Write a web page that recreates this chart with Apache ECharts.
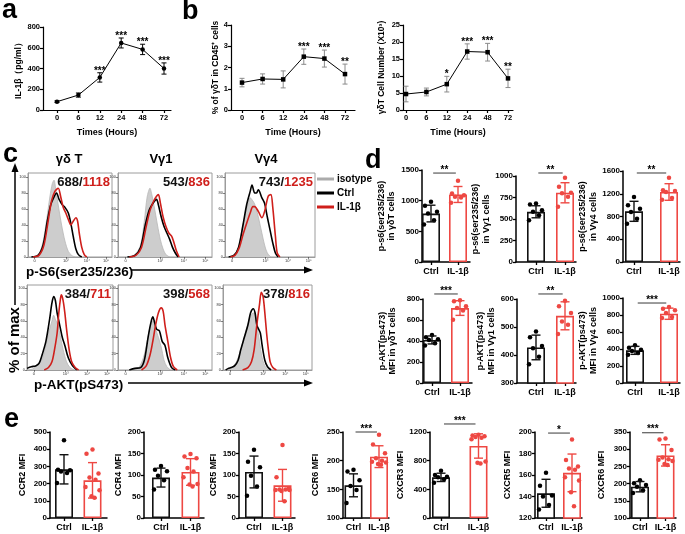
<!DOCTYPE html>
<html>
<head>
<meta charset="utf-8">
<script src="https://cdn.jsdelivr.net/npm/echarts@6/dist/echarts.min.js"></script>
<style>
  html, body { margin: 0; padding: 0; background: #fff; }
  #chart { width: 685px; height: 534px; }
</style>
</head>
<body>
<div id="chart"></div>
<script>
// ---------- data ----------
const timeLabels = ['0', '6', '12', '24', '48', '72'];
const groups = ['Ctrl', 'IL-1β'];

// a: IL-1beta over time
const il1bMean = [80, 144, 314, 646, 584, 400];
const il1bSd = [8, 20, 45, 48, 50, 54];
const il1bSig = ['', '', '***', '***', '***', '***'];
// b: % gdT in CD45+ cells
const gdPctMean = [1.29, 1.46, 1.44, 2.51, 2.42, 1.69];
const gdPctSd = [0.2, 0.24, 0.4, 0.36, 0.4, 0.47];
const gdPctSig = ['', '', '', '***', '***', '**'];
// b: gdT cell number (x10^3)
const gdNumMean = [4.7, 5.3, 7.6, 17.2, 17.0, 9.3];
const gdNumSd = [2.3, 1.15, 2.3, 2.25, 2.6, 2.7];
const gdNumSig = ['', '', '*', '***', '***', '**'];

// c: flow histograms, [position across plot 0-100, % of max]
const hS6GdIso = [[4,0],[12,3],[17,15],[22,45],[26,75],[29,92],[31,96],[33,85],[36,65],[40,40],[44,20],[48,7],[52,2],[56,0]];
const hS6GdCtrl = [[4,0],[12,2],[18,15],[23,45],[27,65],[31,75],[34,80],[37,72],[41,65],[44,62],[48,55],[51,42],[54,25],[57,10],[60,3],[64,0]];
const hS6GdIl = [[6,0],[13,2],[19,15],[24,45],[28,70],[32,82],[36,86],[39,75],[42,62],[45,55],[48,47],[51,40],[54,45],[57,49],[59,45],[61,30],[64,12],[67,3],[70,0]];
const hS6V1Iso = [[10,0],[18,3],[24,15],[28,45],[31,75],[34,86],[36,78],[39,60],[42,40],[45,22],[48,10],[51,3],[55,0]];
const hS6V1Ctrl = [[10,0],[18,2],[24,12],[29,40],[33,58],[36,65],[39,70],[41,72],[43,65],[46,50],[49,38],[52,30],[55,22],[58,12],[61,5],[64,0]];
const hS6V1Il = [[12,0],[19,2],[25,12],[30,38],[34,58],[38,70],[41,76],[43,78],[45,68],[48,50],[51,38],[54,30],[57,26],[59,20],[62,8],[65,0]];
const hS6V4Iso = [[4,0],[10,3],[15,12],[19,35],[23,55],[26,68],[28,74],[31,70],[33,66],[36,55],[40,35],[44,15],[47,5],[51,0]];
const hS6V4Ctrl = [[4,0],[10,2],[15,12],[20,40],[24,65],[28,82],[30,90],[33,80],[35,80],[37,84],[41,74],[44,67],[47,50],[50,34],[53,18],[56,5],[59,0]];
const hS6V4Il = [[6,0],[11,2],[16,12],[20,28],[24,42],[28,55],[31,63],[33,63],[37,57],[41,49],[44,57],[48,76],[51,78],[53,63],[56,26],[58,5],[61,0]];
const hAktGdIso = [[2,0],[8,2],[13,8],[17,12],[21,25],[25,45],[29,60],[31,67],[33,62],[36,55],[39,40],[42,25],[46,10],[50,3],[55,0]];
const hAktGdCtrl = [[0,2],[5,4],[10,5],[14,8],[18,20],[22,35],[26,60],[29,82],[31,90],[33,85],[35,70],[37,60],[39,50],[41,40],[44,30],[48,15],[53,5],[58,0]];
const hAktGdIl = [[20,0],[25,3],[29,10],[32,25],[35,45],[37,70],[39,88],[40,92],[42,85],[44,70],[46,50],[49,25],[52,10],[56,3],[60,0]];
const hAktV1Iso = [[15,0],[22,3],[27,15],[31,35],[34,52],[37,60],[40,50],[43,40],[46,28],[49,12],[52,4],[56,0]];
const hAktV1Ctrl = [[12,0],[18,2],[24,3],[28,12],[32,40],[35,58],[37,65],[39,58],[41,50],[44,48],[47,35],[50,30],[53,15],[57,3],[61,0]];
const hAktV1Il = [[25,0],[30,5],[34,18],[37,35],[40,55],[43,70],[46,76],[48,72],[50,55],[53,35],[56,15],[59,4],[63,0]];
const hAktV4Iso = [[5,0],[10,3],[15,10],[20,25],[25,45],[29,60],[32,68],[35,70],[38,55],[41,35],[44,15],[47,5],[51,0]];
const hAktV4Ctrl = [[3,0],[6,2],[9,3],[13,5],[17,12],[20,25],[24,40],[28,55],[31,70],[34,75],[36,70],[38,55],[40,50],[42,45],[44,30],[47,12],[50,4],[54,0]];
const hAktV4Il = [[22,0],[28,3],[32,10],[35,25],[38,55],[41,80],[43,95],[45,90],[47,70],[49,45],[51,25],[53,10],[56,3],[60,0]];
const histXTicks = [8, 45, 70, 93];
const histXLabels = ['0', '10³', '10⁴', '10⁵'];
const histYTicks = [0, 20, 40, 60, 80, 100];

// d: phospho MFI, dots per mouse, bar = mean, sd
const s6GdCtrl = [981, 916, 818, 790, 681, 610];
const s6GdIl = [1324, 1117, 1090, 1063, 1052, 965];
const s6GdMean = [790, 1101], s6GdSd = [136, 130];
const s6V1Ctrl = [681, 669, 603, 584, 545, 486];
const s6V1Il = [981, 875, 805, 798, 759, 642];
const s6V1Mean = [584, 805], s6V1Sd = [70, 117];
const s6V4Ctrl = [1143, 996, 938, 879, 762, 674];
const s6V4Il = [1483, 1260, 1248, 1231, 1125, 1096];
const s6V4Mean = [891, 1231], s6V4Sd = [176, 146];
const aktGdCtrl = [458, 435, 416, 410, 378, 358];
const aktGdIl = [787, 778, 730, 714, 691, 602];
const aktGdMean = [410, 714], aktGdSd = [38, 70];
const aktV1Ctrl = [484, 463, 432, 424, 394, 367];
const aktV1Il = [594, 574, 550, 520, 508, 475];
const aktV1Mean = [427, 540], aktV1Sd = [44, 50];
const aktV4Ctrl = [443, 416, 392, 376, 353, 333];
const aktV4Il = [894, 874, 855, 823, 776, 764];
const aktV4Mean = [384, 815], aktV4Sd = [47, 66];

// e: chemokine receptor MFI
const ccr2Ctrl = [452, 281, 277, 271, 262, 204];
const ccr2Il = [398, 374, 258, 235, 223, 180, 161, 126, 118];
const ccr2Mean = [283, 219], ccr2Sd = [85, 103];
const ccr4Ctrl = [121, 112, 109, 98, 88, 66];
const ccr4Il = [149, 143, 139, 116, 108, 95, 79, 78, 73];
const ccr4Mean = [94, 107], ccr4Sd = [22, 31];
const ccr5Ctrl = [159, 131, 118, 98, 73, 52];
const ccr5Il = [170, 95, 68, 66, 66, 65, 65, 63, 39];
const ccr5Mean = [107, 76], ccr5Sd = [37, 37];
const ccr6Ctrl = [184, 181, 166, 156, 149, 126];
const ccr6Il = [245, 228, 213, 204, 200, 198, 197, 194, 193];
const ccr6Mean = [157, 207], ccr6Sd = [20, 19];
const cxcr3Ctrl = [661, 600, 577, 567, 539, 492];
const cxcr3Il = [1160, 1150, 1140, 1130, 1120, 1100, 790, 770, 760];
const cxcr3Mean = [567, 1005], cxcr3Sd = [58, 170];
const cxcr5Ctrl = [162, 150, 141, 140, 132, 128];
const cxcr5Il = [193, 174, 168, 166, 165, 158, 155, 144, 131];
const cxcr5Mean = [143, 162], cxcr5Sd = [13, 17.5];
const cxcr6Ctrl = [210, 201, 196, 191, 181, 173];
const cxcr6Il = [331, 328, 298, 276, 271, 269, 266, 257, 254];
const cxcr6Mean = [191, 282], cxcr6Sd = [15, 31];

// ---------- styling / layout ----------
const FONT = '"Liberation Sans", Arial, Helvetica, sans-serif';
const RED = '#ee4843';
const HRED = '#cf1f1b';
const groupColors = ['#111', RED];
const jitter = [0, -6, 6, -3, 3, -7, 7, -1, 2]; // px spread of dots inside a bar

function txt(size, extra) {
  return Object.assign({ fontFamily: FONT, fontWeight: 'bold', fontSize: size, color: '#000' }, extra || {});
}
const plain = v => String(v);

const grids = [], xAxes = [], yAxes = [], series = [];
function addGrid(g) { grids.push(g); return grids.length - 1; }

function errBar(colors, cap, lw) {
  return function (params, api) {
    const x = api.value(0), m = api.value(1), s = api.value(2);
    const t = api.coord([x, m + s]), b = api.coord([x, m - s]);
    const st = { stroke: colors[params.dataIndex] || colors[0], lineWidth: lw };
    return { type: 'group', children: [
      { type: 'line', shape: { x1: t[0], y1: t[1], x2: b[0], y2: b[1] }, style: st },
      { type: 'line', shape: { x1: t[0] - cap, y1: t[1], x2: t[0] + cap, y2: t[1] }, style: st },
      { type: 'line', shape: { x1: b[0] - cap, y1: b[1], x2: b[0] + cap, y2: b[1] }, style: st }
    ] };
  };
}

// ---------- a / b : time courses ----------
const linePanels = [
  { mean: il1bMean, sd: il1bSd, sig: il1bSig, yMax: 800, yStep: 200, yName: 'IL-1β（pg/ml）', xName: 'Times (Hours)',
    errColor: '#000', symbol: 'circle', axis: 43, first: 57, last: 164, end: 171, top: 27, bottom: 110, yNameGap: 16 },
  { mean: gdPctMean, sd: gdPctSd, sig: gdPctSig, yMax: 4, yStep: 1, yName: '% of γδT in CD45⁺ cells', xName: 'Time (Hours)',
    errColor: '#8a8a8a', symbol: 'rect', axis: 231, first: 242, last: 345, end: 355, top: 25, bottom: 110, yNameGap: 8 },
  { mean: gdNumMean, sd: gdNumSd, sig: gdNumSig, yMax: 25, yStep: 5, yName: 'γδT Cell Number (X10³)', xName: 'Time (Hours)',
    errColor: '#8a8a8a', symbol: 'rect', axis: 403, first: 406, last: 508, end: 513, top: 25, bottom: 110, yNameGap: 17 }
];

linePanels.forEach(p => {
  const unit = (p.last - p.first) / 5;
  const idx = [0, 1, 2, 3, 4, 5];
  const gi = addGrid({ left: p.axis, top: p.top, width: p.end - p.axis, height: p.bottom - p.top });
  xAxes.push({
    gridIndex: gi, type: 'value', min: -(p.first - p.axis) / unit, max: 5 + (p.end - p.last) / unit,
    axisLine: { onZero: false, lineStyle: { color: '#000', width: 1.2 } },
    axisTick: { customValues: idx, length: 3, lineStyle: { color: '#000', width: 1.2 } },
    axisLabel: Object.assign({ customValues: idx, margin: 4, formatter: v => timeLabels[Math.round(v)] }, txt(7.5)),
    splitLine: { show: false },
    name: p.xName, nameLocation: 'middle', nameGap: 18, nameTextStyle: txt(9)
  });
  yAxes.push({
    gridIndex: gi, type: 'value', min: 0, max: p.yMax, interval: p.yStep,
    axisLine: { show: true, onZero: false, lineStyle: { color: '#000', width: 1.2 } },
    axisTick: { show: true, length: 3, lineStyle: { color: '#000', width: 1.2 } },
    axisLabel: Object.assign({ margin: 3, formatter: plain }, txt(7.5)),
    splitLine: { show: false },
    name: p.yName, nameLocation: 'middle', nameRotate: 90, nameGap: p.yNameGap, nameTextStyle: txt(8.5)
  });
  series.push({
    type: 'custom', xAxisIndex: gi, yAxisIndex: gi, z: 2,
    data: p.mean.map((m, i) => [i, m, p.sd[i]]),
    renderItem: errBar([p.errColor], 2.5, 1)
  });
  series.push({
    type: 'line', xAxisIndex: gi, yAxisIndex: gi, z: 3,
    data: p.mean.map((m, i) => [i, m]),
    symbol: p.symbol, symbolSize: 4.5, itemStyle: { color: '#000' },
    lineStyle: { color: '#000', width: 1 }
  });
  series.push({
    type: 'custom', xAxisIndex: gi, yAxisIndex: gi, z: 4,
    data: p.mean.map((m, i) => [i, m + p.sd[i]]),
    renderItem: (params, api) => {
      const s = p.sig[params.dataIndex];
      if (!s) return null;
      const pt = api.coord([api.value(0), api.value(1)]);
      return { type: 'text', x: pt[0], y: pt[1] + 3,
        style: { text: s, fill: '#000', font: 'bold 10px ' + FONT, align: 'center', verticalAlign: 'bottom' } };
    }
  });
});

// ---------- c : flow histograms ----------
const histPanels = [
  { iso: hS6GdIso, ctrl: hS6GdCtrl, il: hS6GdIl, left: 28, right: 112, top: 173, bottom: 257, yMax: 105, nums: ['688/', '1118'] },
  { iso: hS6V1Iso, ctrl: hS6V1Ctrl, il: hS6V1Il, left: 118, right: 212, top: 173, bottom: 257, yMax: 105, nums: ['543/', '836'] },
  { iso: hS6V4Iso, ctrl: hS6V4Ctrl, il: hS6V4Il, left: 225, right: 315, top: 173, bottom: 257, yMax: 105, nums: ['743/', '1235'] },
  { iso: hAktGdIso, ctrl: hAktGdCtrl, il: hAktGdIl, left: 27, right: 113, top: 285, bottom: 370, yMax: 104, nums: ['384/', '711'] },
  { iso: hAktV1Iso, ctrl: hAktV1Ctrl, il: hAktV1Il, left: 118, right: 212, top: 285, bottom: 370, yMax: 104, nums: ['398/', '568'] },
  { iso: hAktV4Iso, ctrl: hAktV4Ctrl, il: hAktV4Il, left: 223, right: 312, top: 285, bottom: 370, yMax: 104, nums: ['378/', '816'] }
];
const histTitles = [['γδ T', 69], ['Vγ1', 161], ['Vγ4', 266]];

histPanels.forEach(h => {
  const gi = addGrid({ left: h.left, top: h.top, width: h.right - h.left, height: h.bottom - h.top,
    show: true, borderColor: '#9c9c9c', borderWidth: 1 });
  xAxes.push({
    gridIndex: gi, type: 'value', min: 0, max: 100,
    axisLine: { onZero: false, lineStyle: { color: '#9c9c9c', width: 1 } },
    axisTick: { customValues: histXTicks, length: 2, lineStyle: { color: '#333', width: 0.6 } },
    axisLabel: { customValues: histXTicks, formatter: v => histXLabels[histXTicks.indexOf(v)], fontSize: 4, color: '#333', margin: 2 },
    splitLine: { show: false }
  });
  yAxes.push({
    gridIndex: gi, type: 'value', min: 0, max: h.yMax,
    axisLine: { show: true, onZero: false, lineStyle: { color: '#9c9c9c', width: 1 } },
    axisTick: { show: true, customValues: histYTicks, length: 2, lineStyle: { color: '#333', width: 0.6 } },
    axisLabel: { customValues: histYTicks, fontSize: 4, color: '#333', margin: 2 },
    splitLine: { show: false }
  });
  const base = { type: 'line', xAxisIndex: gi, yAxisIndex: gi, smooth: 0.3, symbol: 'none', silent: true };
  series.push(Object.assign({}, base, { name: 'isotype', data: h.iso, z: 2,
    itemStyle: { color: '#ababab' }, lineStyle: { color: '#b8b8b8', width: 0.8 }, areaStyle: { color: '#cdcdcd', opacity: 1 } }));
  series.push(Object.assign({}, base, { name: 'Ctrl', data: h.ctrl, z: 3,
    itemStyle: { color: '#000' }, lineStyle: { color: '#000', width: 1.6 } }));
  series.push(Object.assign({}, base, { name: 'IL-1β', data: h.il, z: 4,
    itemStyle: { color: HRED }, lineStyle: { color: HRED, width: 1.6 } }));
});

// ---------- d / e : bar + dot plots ----------
const barPanels = [
  { ctrl: s6GdCtrl, il: s6GdIl, mean: s6GdMean, sd: s6GdSd, sig: '**', yMin: 0, yMax: 1500, yStep: 500,
    name: 'p-s6(ser235/236)\nin γδT cells', axis: 422, c0: 431, c1: 458, end: 470, top: 170, bottom: 262, nameGap: 25, br: 1450 },
  { ctrl: s6V1Ctrl, il: s6V1Il, mean: s6V1Mean, sd: s6V1Sd, sig: '**', yMin: 0, yMax: 1000, yStep: 250,
    name: 'p-s6(ser235/236)\nin Vγ1 cells', axis: 516, c0: 536, c1: 565, end: 576, top: 176, bottom: 262, nameGap: 20, br: 1035 },
  { ctrl: s6V4Ctrl, il: s6V4Il, mean: s6V4Mean, sd: s6V4Sd, sig: '**', yMin: 0, yMax: 1600, yStep: 400,
    name: 'p-s6(ser235/236)\nin Vγ4 cells', axis: 623, c0: 634, c1: 669, end: 680, top: 171, bottom: 262, nameGap: 20, br: 1565 },
  { ctrl: aktGdCtrl, il: aktGdIl, mean: aktGdMean, sd: aktGdSd, sig: '***', yMin: 0, yMax: 800, yStep: 200,
    name: 'p-AKT(ps473)\nMFI in γδT cells', axis: 423, c0: 432, c1: 460, end: 472, top: 299, bottom: 383, nameGap: 25, br: 848 },
  { ctrl: aktV1Ctrl, il: aktV1Il, mean: aktV1Mean, sd: aktV1Sd, sig: '**', yMin: 300, yMax: 600, yStep: 100,
    name: 'p-AKT(ps473)\nMFI in Vγ1 cells', axis: 517, c0: 536, c1: 565, end: 576, top: 299, bottom: 383, nameGap: 20, br: 618 },
  { ctrl: aktV4Ctrl, il: aktV4Il, mean: aktV4Mean, sd: aktV4Sd, sig: '***', yMin: 0, yMax: 1000, yStep: 200,
    name: 'p-AKT(ps473)\nMFI in Vγ4 cells', axis: 623, c0: 635, c1: 669, end: 680, top: 298, bottom: 383, nameGap: 20, br: 941 },
  { ctrl: ccr2Ctrl, il: ccr2Il, mean: ccr2Mean, sd: ccr2Sd, sig: '', yMin: 0, yMax: 500, yStep: 100,
    name: 'CCR2 MFI', axis: 50, c0: 64, c1: 92.5, end: 107, top: 432, bottom: 518, nameGap: 22 },
  { ctrl: ccr4Ctrl, il: ccr4Il, mean: ccr4Mean, sd: ccr4Sd, sig: '', yMin: 0, yMax: 200, yStep: 50,
    name: 'CCR4 MFI', axis: 144, c0: 161, c1: 190.5, end: 204, top: 432, bottom: 518, nameGap: 19 },
  { ctrl: ccr5Ctrl, il: ccr5Il, mean: ccr5Mean, sd: ccr5Sd, sig: '', yMin: 0, yMax: 200, yStep: 50,
    name: 'CCR5 MFI', axis: 239, c0: 254, c1: 282.5, end: 295, top: 432, bottom: 518, nameGap: 19 },
  { ctrl: ccr6Ctrl, il: ccr6Il, mean: ccr6Mean, sd: ccr6Sd, sig: '***', yMin: 100, yMax: 250, yStep: 50,
    name: 'CCR6 MFI', axis: 343, c0: 353.5, c1: 379, end: 389, top: 432, bottom: 518, nameGap: 22, br: 250 },
  { ctrl: cxcr3Ctrl, il: cxcr3Il, mean: cxcr3Mean, sd: cxcr3Sd, sig: '***', yMin: 0, yMax: 1200, yStep: 400,
    name: 'CXCR3 MFI', axis: 430, c0: 441, c1: 478.5, end: 488, top: 432, bottom: 518, nameGap: 22, br: 1312 },
  { ctrl: cxcr5Ctrl, il: cxcr5Il, mean: cxcr5Mean, sd: cxcr5Sd, sig: '*', yMin: 120, yMax: 200, yStep: 20,
    name: 'CXCR5 MFI', axis: 535, c0: 546, c1: 572, end: 582, top: 432, bottom: 518, nameGap: 22, br: 199 },
  { ctrl: cxcr6Ctrl, il: cxcr6Il, mean: cxcr6Mean, sd: cxcr6Sd, sig: '***', yMin: 100, yMax: 350, yStep: 50,
    name: 'CXCR6 MFI', axis: 630, c0: 640, c1: 665.5, end: 676, top: 432, bottom: 518, nameGap: 23, br: 348 }
];

barPanels.forEach(p => {
  const unit = p.c1 - p.c0;
  const gi = addGrid({ left: p.axis, top: p.top, width: p.end - p.axis, height: p.bottom - p.top });
  xAxes.push({
    gridIndex: gi, type: 'value', min: -(p.c0 - p.axis) / unit, max: 1 + (p.end - p.c1) / unit,
    axisLine: { onZero: false, lineStyle: { color: '#000', width: 1.5 } },
    axisTick: { customValues: [0, 1], length: 3, lineStyle: { color: '#000', width: 1.3 } },
    axisLabel: Object.assign({ customValues: [0, 1], margin: 5, formatter: v => groups[Math.round(v)] }, txt(9)),
    splitLine: { show: false }
  });
  yAxes.push({
    gridIndex: gi, type: 'value', min: p.yMin, max: p.yMax, interval: p.yStep,
    axisLine: { show: true, onZero: false, lineStyle: { color: '#000', width: 1.5 } },
    axisTick: { show: true, length: 3, lineStyle: { color: '#000', width: 1.3 } },
    axisLabel: Object.assign({ margin: 3, formatter: plain }, txt(8)),
    splitLine: { show: false },
    name: p.name, nameLocation: 'middle', nameRotate: 90, nameGap: p.nameGap,
    nameTextStyle: txt(9, { lineHeight: 10.5 })
  });
  series.push({
    type: 'bar', xAxisIndex: gi, yAxisIndex: gi, barWidth: 18, silent: true, z: 2,
    data: p.mean.map((m, i) => ({ value: [i, m], itemStyle: { borderColor: groupColors[i] } })),
    itemStyle: { color: '#fff', borderWidth: 1.6 }
  });
  [p.ctrl, p.il].forEach((dots, g) => {
    series.push({
      type: 'scatter', xAxisIndex: gi, yAxisIndex: gi, z: 3, silent: true,
      data: dots.map((v, k) => [g + jitter[k] / unit, v]),
      symbolSize: 4.5, itemStyle: { color: g ? RED : '#000', opacity: 1 }
    });
  });
  series.push({
    type: 'custom', xAxisIndex: gi, yAxisIndex: gi, z: 4,
    data: p.mean.map((m, i) => [i, m, p.sd[i]]),
    renderItem: errBar(groupColors, 4.5, 1.4)
  });
  if (p.sig) {
    series.push({
      type: 'custom', xAxisIndex: gi, yAxisIndex: gi, z: 4,
      data: [[0.08, 0.92, p.br]],
      renderItem: (params, api) => {
        const a = api.coord([api.value(0), api.value(2)]), b = api.coord([api.value(1), api.value(2)]);
        return { type: 'group', children: [
          { type: 'line', shape: { x1: a[0], y1: a[1], x2: b[0], y2: b[1] }, style: { stroke: '#666', lineWidth: 1.3 } },
          { type: 'text', x: (a[0] + b[0]) / 2, y: a[1] + 2,
            style: { text: p.sig, fill: '#000', font: 'bold 10px ' + FONT, align: 'center', verticalAlign: 'bottom' } }
        ] };
      }
    });
  }
});

// ---------- annotations ----------
const graphics = [];
[['a', 2, 11], ['b', 182, 12], ['c', 3, 155], ['d', 365, 161], ['e', 4, 420]].forEach(l => {
  graphics.push({ type: 'text', x: l[1], y: l[2],
    style: { text: l[0], fill: '#000', font: 'bold 27px ' + FONT, verticalAlign: 'middle' } });
});
histTitles.forEach(t => {
  graphics.push({ type: 'text', x: t[1], y: 159,
    style: { text: t[0], fill: '#000', font: 'bold 13px ' + FONT, align: 'center', verticalAlign: 'middle' } });
});
histPanels.forEach(h => {
  graphics.push({ type: 'text', x: h.right - 2, y: h.top + 9, z: 10,
    style: { text: '{k|' + h.nums[0] + '}{r|' + h.nums[1] + '}', align: 'right', verticalAlign: 'middle',
      font: 'bold 13px ' + FONT,
      rich: { k: { fill: '#111', font: 'bold 13px ' + FONT }, r: { fill: HRED, font: 'bold 13px ' + FONT } } } });
});
// axes of panel c
graphics.push(
  { type: 'line', shape: { x1: 15, y1: 170, x2: 15, y2: 305 }, style: { stroke: '#000', lineWidth: 1.5 } },
  { type: 'polygon', shape: { points: [[15, 163], [11.5, 172], [18.5, 172]] }, style: { fill: '#000' } },
  { type: 'text', x: 15, y: 340, rotation: Math.PI / 2,
    style: { text: '% of max', fill: '#000', font: 'bold 15px ' + FONT, align: 'center', verticalAlign: 'middle' } },
  { type: 'text', x: 26, y: 272,
    style: { text: 'p-S6(ser235/236)', fill: '#000', font: 'bold 13.5px ' + FONT, verticalAlign: 'middle' } },
  { type: 'line', shape: { x1: 131, y1: 270, x2: 306, y2: 270 }, style: { stroke: '#000', lineWidth: 1.5 } },
  { type: 'polygon', shape: { points: [[313, 270], [304, 266.5], [304, 273.5]] }, style: { fill: '#000' } },
  { type: 'text', x: 34, y: 385,
    style: { text: 'p-AKT(pS473)', fill: '#000', font: 'bold 13.5px ' + FONT, verticalAlign: 'middle' } },
  { type: 'line', shape: { x1: 128, y1: 383, x2: 306, y2: 383 }, style: { stroke: '#000', lineWidth: 1.5 } },
  { type: 'polygon', shape: { points: [[313, 383], [304, 379.5], [304, 386.5]] }, style: { fill: '#000' } }
);

const chart = echarts.init(document.getElementById('chart'));
chart.setOption({
  animation: false,
  backgroundColor: '#fff',
  textStyle: { fontFamily: FONT },
  grid: grids,
  xAxis: xAxes,
  yAxis: yAxes,
  legend: {
    data: ['isotype', 'Ctrl', 'IL-1β'], orient: 'vertical', left: 312, top: 169,
    itemWidth: 17, itemHeight: 3, itemGap: 4, icon: 'rect', selectedMode: false,
    textStyle: txt(10, { padding: [0, 0, 0, -2] })
  },
  series: series,
  graphic: graphics
});
</script>
</body>
</html>
